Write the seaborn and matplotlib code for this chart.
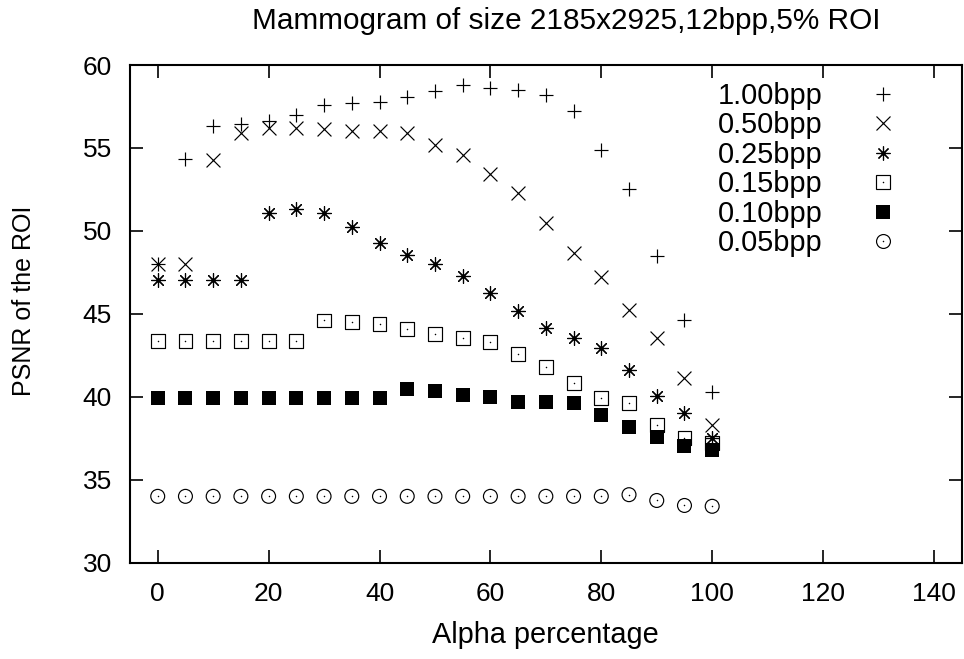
import matplotlib
matplotlib.use("Agg")
import pandas as pd
import matplotlib.pyplot as plt
import seaborn as sns
from matplotlib.lines import Line2D
from matplotlib.legend_handler import HandlerTuple

sns.set_style("ticks")
plt.rcParams['font.family'] = ['Liberation Sans', 'DejaVu Sans']
plt.rcParams['text.color'] = 'black'

# Data
alpha = [0, 5, 10, 15, 20, 25, 30, 35, 40, 45, 50,
         55, 60, 65, 70, 75, 80, 85, 90, 95, 100]
psnr_100 = [48.0, 54.35, 56.3, 56.45, 56.6, 57.0, 57.6, 57.7, 57.75, 58.1, 58.45,
            58.8, 58.6, 58.5, 58.2, 57.2, 54.9, 52.5, 48.5, 44.6, 40.3]
psnr_050 = [48.0, 48.0, 54.3, 55.9, 56.2, 56.2, 56.15, 56.0, 56.0, 55.9, 55.2,
            54.6, 53.45, 52.3, 50.45, 48.65, 47.25, 45.25, 43.55, 41.15, 38.3]
psnr_025 = [47.05, 47.05, 47.05, 47.05, 51.1, 51.3, 51.1, 50.25, 49.3, 48.55, 48.0,
            47.3, 46.25, 45.15, 44.15, 43.55, 42.95, 41.6, 40.05, 39.0, 37.5]
psnr_015 = [43.35, 43.35, 43.35, 43.35, 43.35, 43.35, 44.6, 44.5, 44.4, 44.1, 43.8,
            43.55, 43.3, 42.6, 41.8, 40.85, 39.95, 39.65, 38.3, 37.5, 37.2]
psnr_010 = [39.95, 39.95, 39.95, 39.95, 39.95, 39.95, 39.95, 39.95, 39.95, 40.5, 40.35,
            40.1, 40.0, 39.7, 39.7, 39.6, 38.9, 38.2, 37.6, 37.05, 36.8]
psnr_005 = [34.0, 34.0, 34.0, 34.0, 34.0, 34.0, 34.0, 34.0, 34.0, 34.0, 34.0,
            34.0, 34.0, 34.0, 34.0, 34.0, 34.0, 34.1, 33.75, 33.45, 33.4]
rates = ["1.00bpp", "0.50bpp", "0.25bpp", "0.15bpp", "0.10bpp", "0.05bpp"]

df = pd.concat([
    pd.DataFrame({"alpha": alpha, "psnr": vals, "rate": r})
    for r, vals in zip(rates, [psnr_100, psnr_050, psnr_025, psnr_015, psnr_010, psnr_005])
])

# gnuplot-like point types: (marker, filled, centre dot)
styles = {
    "1.00bpp": ("+", False, False),
    "0.50bpp": ("x", False, False),
    "0.25bpp": ((8, 2, 0), False, False),
    "0.15bpp": ("s", False, True),
    "0.10bpp": ("s", True, False),
    "0.05bpp": ("o", False, True),
}

FS = 19
msize = 10
lw = 0.85

fig = plt.figure(figsize=(9.64, 6.59), dpi=100)
ax = fig.add_axes([130 / 964, 1 - 562.7 / 659, (961.7 - 130) / 964, (562.7 - 65) / 659])

handles = []
for r in rates:
    marker, filled, dot = styles[r]
    sub = df[df["rate"] == r]
    if marker in ("+", "x") or isinstance(marker, tuple):
        sns.scatterplot(data=sub, x="alpha", y="psnr", marker=marker, s=msize ** 2,
                        color="black", linewidth=lw, legend=False, ax=ax)
        h = Line2D([], [], ls="none", marker=marker, markersize=msize, color="black", mew=lw)
    elif filled:
        sns.scatterplot(data=sub, x="alpha", y="psnr", marker=marker, s=(msize * 0.95) ** 2,
                        color="black", edgecolor="black", linewidth=0, legend=False, ax=ax)
        h = Line2D([], [], ls="none", marker=marker, markersize=msize * 0.95, color="black", mew=0)
    else:
        sns.scatterplot(data=sub, x="alpha", y="psnr", marker=marker, s=msize ** 2,
                        color="black", facecolor="none", edgecolor="black", linewidth=lw,
                        legend=False, ax=ax)
        h = Line2D([], [], ls="none", marker=marker, markersize=msize, mfc="none", mec="black", mew=lw)
    if dot:
        sns.scatterplot(data=sub, x="alpha", y="psnr", marker="o", s=1.2,
                        color="black", linewidth=0, legend=False, ax=ax)
        h = (h, Line2D([], [], ls="none", marker="o", markersize=1.1, color="black", mew=0))
    handles.append(h)

ax.set_xlim(-5, 145)
ax.set_ylim(30, 60)
ax.set_xticks(range(0, 141, 20))
ax.set_yticks(range(30, 61, 5))
ax.tick_params(direction="in", length=9.5, width=1.2, top=True, right=True,
               labelsize=FS, colors="black", labelcolor="black")
ax.tick_params(axis="x", pad=14)
ax.tick_params(axis="y", pad=13)
for sp in ax.spines.values():
    sp.set_linewidth(1.5)
    sp.set_color("black")
ax.set_xlabel("")
ax.set_ylabel("")

fig.text(566 / 964, 1 - 21 / 659, "Mammogram of size 2185x2925,12bpp,5% ROI",
         ha="center", va="center", fontsize=21.4, color="black")
fig.text(545 / 964, 1 - 635 / 659, "Alpha percentage", ha="center", va="center",
         fontsize=20.8, color="black")
fig.text(24 / 964, 1 - 301 / 659, "PSNR of the ROI", ha="center", va="center",
         rotation=90, fontsize=18, color="black")

ax.legend(handles, rates, markerfirst=False, frameon=False, loc="upper right",
          bbox_to_anchor=(897.5 / 964, 1 - 82 / 659), bbox_transform=fig.transFigure,
          borderaxespad=0, borderpad=0, fontsize=20.8, labelspacing=0.05,
          handlelength=1.0, handletextpad=1.58,
          handler_map={tuple: HandlerTuple(ndivide=1, pad=0)})

fig.savefig("out.png", dpi=100)
